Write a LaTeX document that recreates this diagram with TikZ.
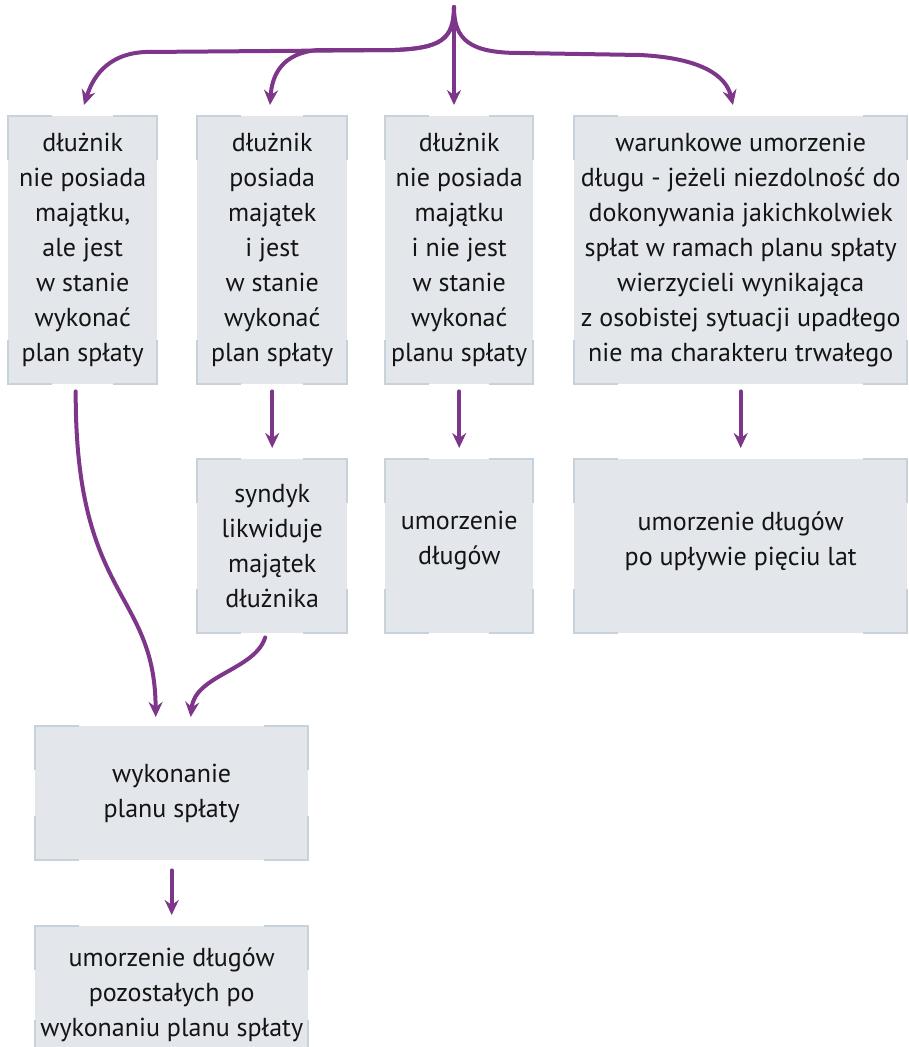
\documentclass[tikz,border=0pt]{standalone}
\usepackage{fontspec}
\setmainfont{PT Sans}
\usetikzlibrary{arrows.meta}
\definecolor{boxfill}{HTML}{E3E7EB}
\definecolor{cornerc}{HTML}{C8D2DB}
\definecolor{arrowc}{HTML}{7D368A}
\definecolor{txt}{HTML}{141414}
\tikzset{
  box/.style={fill=boxfill, inner sep=0pt, align=center, text=txt,
    font=\fontsize{26}{35}\selectfont, anchor=north west},
  cmark/.style={draw=cornerc, line width=2pt},
  conn/.style={draw=arrowc, line width=4pt, line cap=round,
    -{Stealth[length=15pt,width=14pt,inset=5pt]}}
}
\newcommand\corners[1]{%
  \draw[cmark] ([yshift=-44pt]#1.north west) -- (#1.north west) -- ([xshift=44pt]#1.north west);
  \draw[cmark] ([yshift=-44pt]#1.north east) -- (#1.north east) -- ([xshift=-44pt]#1.north east);
  \draw[cmark] ([yshift=44pt]#1.south west) -- (#1.south west) -- ([xshift=44pt]#1.south west);
  \draw[cmark] ([yshift=44pt]#1.south east) -- (#1.south east) -- ([xshift=-44pt]#1.south east);
}
\begin{document}
\begin{tikzpicture}[x=1pt,y=-1pt]
\useasboundingbox (0,0) rectangle (909,1047);
% row 1
\node[box, minimum width=149pt, minimum height=268pt] (b1) at (8,116)
  {dłużnik\\nie posiada\\majątku,\\ale jest\\w stanie\\wykonać\\plan spłaty};
\node[box, minimum width=150pt, minimum height=268pt] (b2) at (197,116)
  {dłużnik\\posiada\\majątek\\i jest\\w stanie\\wykonać\\plan spłaty};
\node[box, minimum width=148pt, minimum height=268pt] (b3) at (385,116)
  {dłużnik\\nie posiada\\majątku\\i nie jest\\w stanie\\wykonać\\planu spłaty};
\node[box, minimum width=333pt, minimum height=268pt] (b4) at (574,116)
  {warunkowe umorzenie\\długu - jeżeli niezdolność do\\dokonywania jakichkolwiek\\spłat w ramach planu spłaty\\wierzycieli wynikająca\\z osobistej sytuacji upadłego\\nie ma charakteru trwałego};
% row 2
\node[box, minimum width=150pt, minimum height=174pt] (c2) at (197,459)
  {syndyk\\likwiduje\\majątek\\dłużnika};
\node[box, minimum width=148pt, minimum height=174pt] (c3) at (385,459)
  {umorzenie\\długów\\[-19pt]};
\node[box, minimum width=333pt, minimum height=174pt] (c4) at (574,459)
  {umorzenie długów\\po upływie pięciu lat\\[-19pt]};
% row 3
\node[box, minimum width=273pt, minimum height=134pt] (d) at (35,726)
  {wykonanie\\planu spłaty};
\node[box, minimum width=273pt, minimum height=138pt] (e) at (35,926)
  {umorzenie długów\\pozostałych po\\wykonaniu planu spłaty};
\foreach \n in {b1,b2,b3,b4,c2,c3,c4,d,e} {\corners{\n}}
% connectors
\coordinate (top) at (454,7);
\coordinate (t1) at (84,105);
\coordinate (t2) at (270,105);
\coordinate (t3) at (454,105);
\coordinate (t4) at (733,105);
\draw[conn] (top) .. controls (454,40) and (440,48) .. (395,50) -- (145,52)
  .. controls (105,54) and (92,80) .. (t1);
\draw[conn] (top) .. controls (454,40) and (440,48) .. (395,50) -- (318,50)
  .. controls (282,53) and (272,75) .. (t2);
\draw[conn] (top) -- (t3);
\draw[conn] (top) .. controls (454,40) and (470,53) .. (520,53) -- (640,55)
  .. controls (700,58) and (726,75) .. (t4);
\draw[conn] ([xshift=-7pt,yshift=-7pt]b1.south) .. controls (75,600) and (155,590) .. ([xshift=-16pt,yshift=9pt]d.north);
\draw[conn] ([xshift=-7pt,yshift=-4pt]c2.south) .. controls (255,670) and (195,675) .. ([xshift=19pt,yshift=9pt]d.north);
\draw[conn] ([yshift=-7pt]b2.south) -- ([yshift=11pt]c2.north);
\draw[conn] ([yshift=-7pt]b3.south) -- ([yshift=11pt]c3.north);
\draw[conn] ([yshift=-7pt]b4.south) -- ([yshift=11pt]c4.north);
\draw[conn] ([yshift=-10pt]d.south) -- ([yshift=11pt]e.north);
\end{tikzpicture}
\end{document}
